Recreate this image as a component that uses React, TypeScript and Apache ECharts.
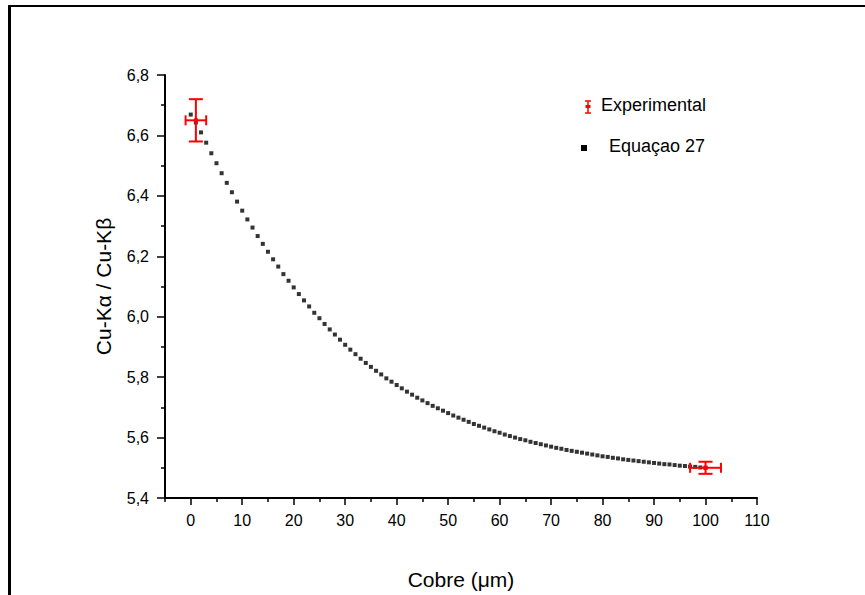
import React, { useEffect, useRef } from "react";
import * as echarts from "echarts";

const xMajorTicks = [0, 10, 20, 30, 40, 50, 60, 70, 80, 90, 100, 110];
const xMinorTicks = [-5, 5, 15, 25, 35, 45, 55, 65, 75, 85, 95, 105];
const yTicks = [5.4, 5.6, 5.8, 6.0, 6.2, 6.4, 6.6, 6.8];

const expX = [1, 100];
const expY = [6.65, 5.5];
const expXErr = [2, 3];
const expYErr = [0.07, 0.02];

// Equação 27, x = 0 .. 100 (step 1)
const eqValues = [
  6.669, 6.643, 6.61, 6.576, 6.541, 6.508, 6.475, 6.443, 6.412, 6.381,
  6.351, 6.322, 6.295, 6.267, 6.241, 6.215, 6.19, 6.166, 6.141, 6.119,
  6.097, 6.075, 6.054, 6.034, 6.013, 5.995, 5.976, 5.958, 5.941, 5.924,
  5.907, 5.891, 5.876, 5.861, 5.847, 5.834, 5.821, 5.809, 5.796, 5.785,
  5.774, 5.763, 5.752, 5.742, 5.732, 5.723, 5.714, 5.705, 5.697, 5.689,
  5.681, 5.673, 5.666, 5.659, 5.652, 5.645, 5.639, 5.633, 5.627, 5.621,
  5.616, 5.61, 5.605, 5.6, 5.595, 5.591, 5.586, 5.582, 5.578, 5.574,
  5.57, 5.566, 5.563, 5.559, 5.556, 5.553, 5.55, 5.547, 5.544, 5.541,
  5.538, 5.536, 5.533, 5.531, 5.528, 5.526, 5.524, 5.522, 5.52, 5.518,
  5.516, 5.514, 5.512, 5.511, 5.509, 5.507, 5.506, 5.504, 5.503, 5.501,
  5.5,
];

const FONT = "'Liberation Sans', Arial, sans-serif";
const RED = "#ff0000";

export default function App() {
  const ref = useRef<HTMLDivElement>(null);

  useEffect(() => {
    if (!ref.current) return;
    const chart = echarts.init(ref.current, undefined, { renderer: "svg" });

    const eqData = eqValues.map((v, i) => [i, v]);
    const expData = expX.map((x, i) => [x, expY[i], expXErr[i], expYErr[i]]);

    const option: any = {
      animation: false,
      backgroundColor: "#ffffff",
      grid: { left: 165, right: 108, top: 75, bottom: 97, containLabel: false },
      xAxis: [
        {
          type: "value",
          min: -5,
          max: 110,
          name: "Cobre (\u03bcm)",
          nameLocation: "middle",
          nameGap: 71,
          nameTextStyle: { fontFamily: FONT, fontSize: 21, color: "#000" },
          axisLine: { show: true, onZero: false, lineStyle: { color: "#000", width: 2 } },
          axisTick: {
            show: true,
            inside: false,
            length: 7,
            customValues: xMajorTicks,
            lineStyle: { color: "#000", width: 1.5 },
          },
          axisLabel: {
            show: true,
            margin: 14,
            customValues: xMajorTicks,
            fontFamily: FONT,
            fontSize: 16,
            color: "#000",
          },
          splitLine: { show: false },
        },
        {
          type: "value",
          min: -5,
          max: 110,
          position: "bottom",
          axisLine: { show: false, onZero: false },
          axisTick: {
            show: true,
            inside: false,
            length: 4,
            customValues: xMinorTicks,
            lineStyle: { color: "#000", width: 1.5 },
          },
          axisLabel: { show: false },
          splitLine: { show: false },
        },
      ],
      yAxis: {
        type: "value",
        min: 5.4,
        max: 6.8,
        interval: 0.2,
        name: "Cu-K\u03b1 / Cu-K\u03b2",
        nameLocation: "middle",
        nameGap: 51,
        nameTextStyle: { fontFamily: FONT, fontSize: 21, color: "#000" },
        axisLine: { show: true, onZero: false, lineStyle: { color: "#000", width: 2 } },
        axisTick: {
          show: true,
          inside: false,
          length: 8,
          customValues: yTicks,
          lineStyle: { color: "#000", width: 1.5 },
        },
        minorTick: { show: true, splitNumber: 2, length: 4, lineStyle: { color: "#000", width: 1.5 } },
        axisLabel: {
          show: true,
          margin: 16,
          customValues: yTicks,
          fontFamily: FONT,
          fontSize: 16,
          color: "#000",
          formatter: (v: number) => v.toFixed(1).replace(".", ","),
        },
        splitLine: { show: false },
        minorSplitLine: { show: false },
      },
      series: [
        {
          name: "Equaçao 27",
          type: "scatter",
          data: eqData,
          symbol: "rect",
          symbolSize: 4,
          itemStyle: { color: "#000" },
          z: 2,
        },
        {
          name: "Experimental",
          type: "custom",
          data: expData,
          z: 3,
          renderItem: (params: any, api: any) => {
            const x = api.value(0);
            const y = api.value(1);
            const xe = api.value(2);
            const ye = api.value(3);
            const c = api.coord([x, y]);
            const t = api.coord([x, y + ye]);
            const b = api.coord([x, y - ye]);
            const l = api.coord([x - xe, y]);
            const r = api.coord([x + xe, y]);
            const st = { stroke: RED, lineWidth: 2, fill: "none" };
            const cw = 7;
            const ch = 5;
            return {
              type: "group",
              children: [
                { type: "line", shape: { x1: c[0], y1: t[1], x2: c[0], y2: b[1] }, style: st },
                { type: "line", shape: { x1: c[0] - cw, y1: t[1], x2: c[0] + cw, y2: t[1] }, style: st },
                { type: "line", shape: { x1: c[0] - cw, y1: b[1], x2: c[0] + cw, y2: b[1] }, style: st },
                { type: "line", shape: { x1: l[0], y1: c[1], x2: r[0], y2: c[1] }, style: st },
                { type: "line", shape: { x1: l[0], y1: c[1] - ch, x2: l[0], y2: c[1] + ch }, style: st },
                { type: "line", shape: { x1: r[0], y1: c[1] - ch, x2: r[0], y2: c[1] + ch }, style: st },
                { type: "rect", shape: { x: c[0] - 2, y: c[1] - 2, width: 4, height: 4 }, style: { fill: RED } },
              ],
            };
          },
        },
      ],
      graphic: [
        // outer frame (partially visible)
        { type: "line", shape: { x1: 8, y1: 6, x2: 865, y2: 6 }, style: { stroke: "#000", lineWidth: 2 } },
        { type: "line", shape: { x1: 9.5, y1: 6, x2: 9.5, y2: 595 }, style: { stroke: "#000", lineWidth: 3 } },
        // legend: Experimental
        { type: "line", shape: { x1: 588, y1: 101, x2: 588, y2: 113 }, style: { stroke: RED, lineWidth: 1.5 } },
        { type: "line", shape: { x1: 585, y1: 101, x2: 591, y2: 101 }, style: { stroke: RED, lineWidth: 1.5 } },
        { type: "line", shape: { x1: 585, y1: 113, x2: 591, y2: 113 }, style: { stroke: RED, lineWidth: 1.5 } },
        { type: "rect", shape: { x: 585.5, y: 105, width: 5, height: 3 }, style: { fill: RED } },
        {
          type: "text",
          x: 601,
          y: 105,
          style: { text: "Experimental", fontFamily: FONT, fontSize: 18, fill: "#000", textVerticalAlign: "middle", verticalAlign: "middle" },
        },
        // legend: Equação 27
        { type: "rect", shape: { x: 581, y: 145, width: 6, height: 6 }, style: { fill: "#000" } },
        {
          type: "text",
          x: 609,
          y: 146,
          style: { text: "Equaçao 27", fontFamily: FONT, fontSize: 18, fill: "#000", textVerticalAlign: "middle", verticalAlign: "middle" },
        },
      ],
    };

    chart.setOption(option);
    return () => chart.dispose();
  }, []);

  return (
    <div
      ref={ref}
      style={{ position: "absolute", left: 0, top: 0, width: 865, height: 595, background: "#fff" }}
    />
  );
}
